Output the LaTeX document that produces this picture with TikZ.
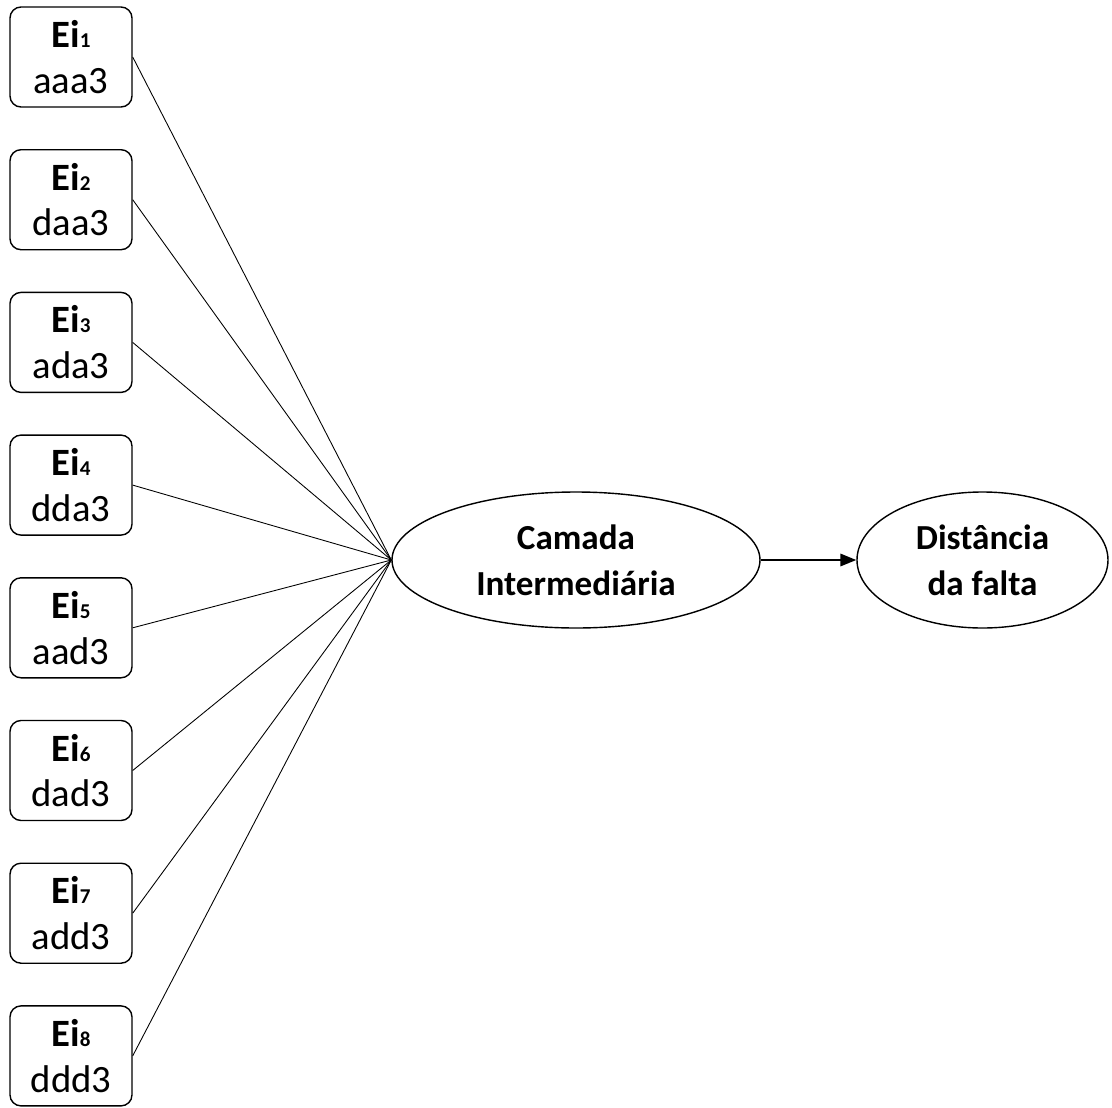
\documentclass[tikz,border=0pt]{standalone}
\usepackage{fontspec}
\setmainfont{Carlito}
\usetikzlibrary{shapes.geometric,arrows.meta}
\begin{document}
\begin{tikzpicture}
    \tikzset{
        entrada/.style={draw, rounded corners=0.22cm, minimum width=2.44cm, minimum height=2cm, inner sep=0, align=center, line width=0.8pt, font=\fontsize{22}{26}\selectfont},
        camada/.style={draw, ellipse, minimum width=7.36cm, minimum height=2.72cm, inner sep=0, align=center, line width=0.8pt, font=\bfseries\fontsize{20}{26}\selectfont},
        liga/.style={-, line width=0.5pt},
        seta/.style={-{Triangle[length=9pt,width=7pt]}, line width=1.2pt}
    }
    \useasboundingbox (0,0) rectangle (22.24,-22.16);

    \node[camada] (ci) at (11.52,-11.2) {Camada\\Intermediária};
    \node[camada, minimum width=5.02cm] (df) at (19.65,-11.2) {Distância\\da falta};

    \foreach \i/\t in {%
        1/aaa3,2/daa3,3/ada3,4/dda3,5/aad3,6/dad3,7/add3,8/ddd3%
    }{
        \node[entrada] (e\i) at (1.42,{-1.14-(\i-1)*2.854}) {\textbf{Ei{\fontsize{12}{12}\selectfont\i}}\\\t};
        \draw[liga] (e\i.east) -- (ci.west);
    }
    \draw[seta] (ci) -- (df);
\end{tikzpicture}
\end{document}
